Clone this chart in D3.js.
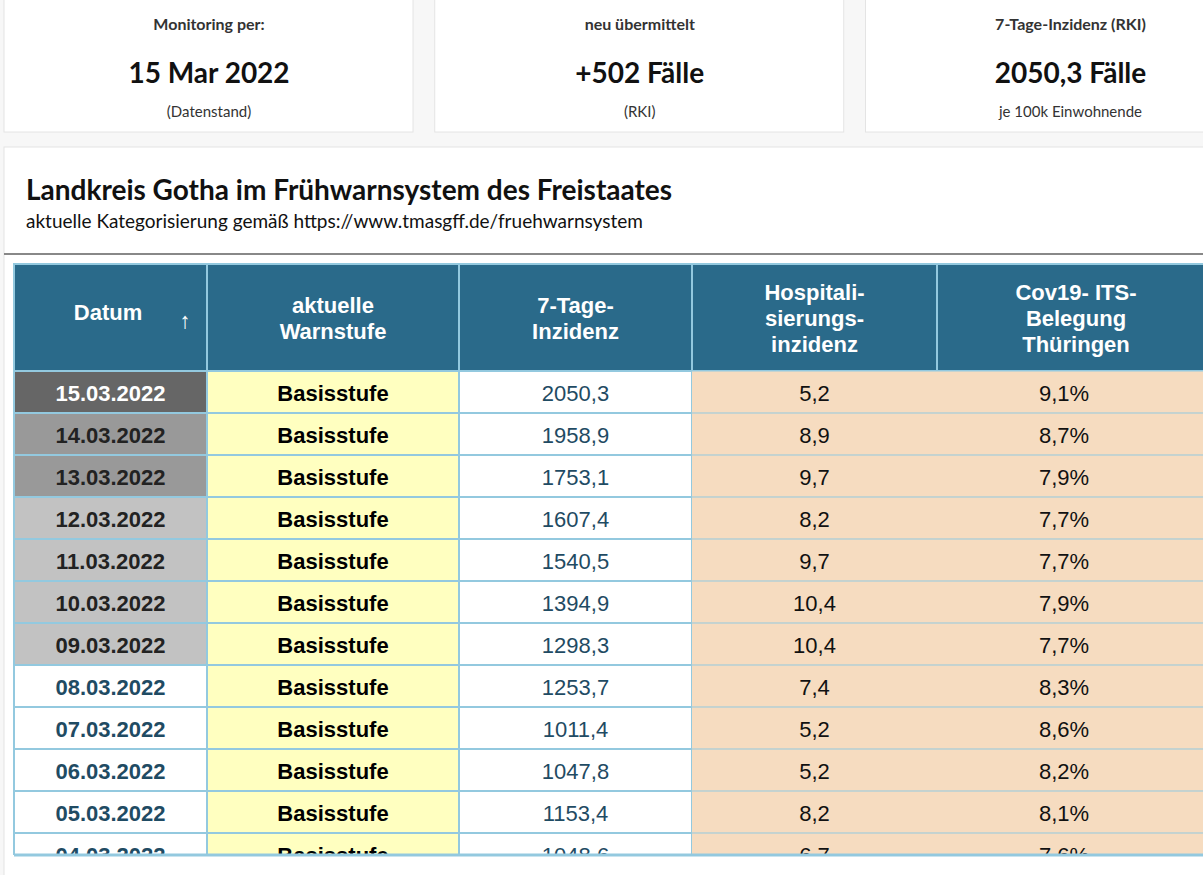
<!DOCTYPE html>
<html><head><meta charset="utf-8">
<script src="https://cdn.jsdelivr.net/npm/d3@7"></script>
<style>body{margin:0;background:#f7f7f7;overflow:hidden}</style>
</head><body>
<script>
// data
const cardTitles = ["Monitoring per:", "neu übermittelt", "7-Tage-Inzidenz (RKI)"];
const cardValues = ["15 Mar 2022", "+502 Fälle", "2050,3 Fälle"];
const cardNotes = ["(Datenstand)", "(RKI)", "je 100k Einwohnende"];
const headers = [["Datum"], ["aktuelle", "Warnstufe"], ["7-Tage-", "Inzidenz"], ["Hospitali-", "sierungs-", "inzidenz"], ["Cov19- ITS-", "Belegung", "Thüringen"]];
const dates = ["15.03.2022","14.03.2022","13.03.2022","12.03.2022","11.03.2022","10.03.2022","09.03.2022","08.03.2022","07.03.2022","06.03.2022","05.03.2022","04.03.2022"];
const stufe = ["Basisstufe","Basisstufe","Basisstufe","Basisstufe","Basisstufe","Basisstufe","Basisstufe","Basisstufe","Basisstufe","Basisstufe","Basisstufe","Basisstufe"];
const inzidenz = ["2050,3","1958,9","1753,1","1607,4","1540,5","1394,9","1298,3","1253,7","1011,4","1047,8","1153,4","1048,6"];
const hospital = ["5,2","8,9","9,7","8,2","9,7","10,4","10,4","7,4","5,2","5,2","8,2","6,7"];
const its = ["9,1%","8,7%","7,9%","7,7%","7,7%","7,9%","7,7%","8,3%","8,6%","8,2%","8,1%","7,6%"];

const W = 1203, H = 875;
const svg = d3.select("body").append("svg").attr("width", W).attr("height", H);

// cards
const cardX = d3.scaleBand().domain(d3.range(3)).range([4, 1279]).paddingInner(0.04).paddingOuter(0);
const cards = svg.selectAll("g.card").data(cardTitles).enter().append("g")
  .attr("transform", (d, i) => `translate(${cardX(i)},0)`);
cards.append("rect").attr("y", -2).attr("width", 409).attr("height", 134)
  .attr("fill", "#fff").attr("stroke", "#e4e4e4");
cards.append("text").attr("x", 205).attr("y", 30).attr("text-anchor", "middle")
  .attr("font-family", "Lato").attr("font-weight", "bold").attr("font-size", 16).attr("fill", "#333").text(d => d);
cards.append("text").attr("x", 205).attr("y", 83).attr("text-anchor", "middle")
  .attr("font-family", "Lato").attr("font-weight", "bold").attr("font-size", 28).attr("fill", "#111").text((d, i) => cardValues[i]);
cards.append("text").attr("x", 205).attr("y", 117).attr("text-anchor", "middle")
  .attr("font-family", "Lato").attr("font-size", 15).attr("fill", "#333").text((d, i) => cardNotes[i]);

// panel
svg.append("rect").attr("x", 4).attr("y", 147).attr("width", 1210).attr("height", 740)
  .attr("fill", "#fff").attr("stroke", "#e4e4e4");
svg.append("text").attr("x", 26).attr("y", 200).attr("font-family", "Lato").attr("font-weight", "bold")
  .attr("font-size", 28).attr("fill", "#111").text("Landkreis Gotha im Frühwarnsystem des Freistaates");
svg.append("text").attr("x", 26).attr("y", 228).attr("font-family", "Lato")
  .attr("font-size", 19).attr("fill", "#111").text("aktuelle Kategorisierung gemäß https://www.tmasgff.de/fruehwarnsystem");
svg.append("line").attr("x1", 4).attr("x2", W).attr("y1", 254).attr("y2", 254)
  .attr("stroke", "#888").attr("stroke-width", 2);

// table
const colEdges = [14, 207, 459, 692, 937, 1215];
const headTop = 264, headH = 107, rowH = 42, tableBottom = 855;
const y = d3.scaleBand().domain(d3.range(dates.length)).range([headTop + headH, headTop + headH + rowH * dates.length]);
const table = svg.append("g");
table.append("clipPath").attr("id", "clip").append("rect")
  .attr("x", 0).attr("y", 0).attr("width", W).attr("height", tableBottom);
const body = table.append("g").attr("clip-path", "url(#clip)");
const border = "#93c9df";
const font = "'Liberation Sans', Arial, sans-serif";

body.selectAll("rect.h").data(headers).enter().append("rect")
  .attr("x", (d, i) => colEdges[i]).attr("y", headTop)
  .attr("width", (d, i) => colEdges[i + 1] - colEdges[i]).attr("height", headH)
  .attr("fill", "#2a6a8a").attr("stroke", border).attr("stroke-width", 2);
body.selectAll("text.h").data(headers).enter().append("text")
  .attr("text-anchor", "middle").attr("font-family", font).attr("font-weight", "bold")
  .attr("font-size", 22).attr("fill", "#fff")
  .each(function (d, i) {
    const cx = i === 0 ? 108 : (colEdges[i] + colEdges[i + 1]) / 2;
    const y0 = headTop + headH / 2 - (d.length - 1) * 13 + 8 - (i === 0 ? 6 : 0);
    d3.select(this).selectAll("tspan").data(d).enter().append("tspan")
      .attr("x", cx).attr("y", (t, k) => y0 + k * 26).text(t => t);
  });
body.append("text").attr("x", 185).attr("y", 328).attr("text-anchor", "middle")
  .attr("font-family", font).attr("font-weight", "bold").attr("font-size", 22).attr("fill", "#fff").text("↑");

const dateFill = i => i === 0 ? "#666666" : i < 3 ? "#999999" : i < 7 ? "#c2c2c2" : "#ffffff";
const dateText = i => i === 0 ? "#ffffff" : i < 7 ? "#222222" : "#1f4b63";
const cols = [
  { vals: dates, fill: dateFill, color: dateText, weight: "bold" },
  { vals: stufe, fill: () => "#ffffc0", color: () => "#000", weight: "bold" },
  { vals: inzidenz, fill: () => "#ffffff", color: () => "#1f4b63", weight: "normal" },
  { vals: hospital, fill: () => "#f6dcc0", color: () => "#111", weight: "normal" },
  { vals: its, fill: () => "#f6dcc0", color: () => "#111", weight: "normal" }
];
cols.forEach((c, ci) => {
  const g = body.append("g");
  g.selectAll("rect").data(c.vals).enter().append("rect")
    .attr("x", colEdges[ci]).attr("y", (d, i) => y(i))
    .attr("width", colEdges[ci + 1] - colEdges[ci]).attr("height", y.bandwidth())
    .attr("fill", (d, i) => c.fill(i)).attr("stroke", ci >= 3 ? "none" : border).attr("stroke-width", 2);
  g.selectAll("text").data(c.vals).enter().append("text")
    .attr("x", (colEdges[ci] + colEdges[ci + 1]) / 2 - (ci === 4 ? 12 : 0)).attr("y", (d, i) => y(i) + 30)
    .attr("text-anchor", "middle").attr("font-family", font).attr("font-weight", c.weight)
    .attr("font-size", 22).attr("fill", (d, i) => c.color(i)).text(d => d);
});
// horizontal row lines across the orange columns
body.selectAll("line.r").data(dates).enter().append("line")
  .attr("x1", colEdges[3]).attr("x2", W).attr("y1", (d, i) => y(i)).attr("y2", (d, i) => y(i))
  .attr("stroke", border).attr("stroke-width", 1);
table.append("line").attr("x1", 14).attr("x2", W).attr("y1", tableBottom).attr("y2", tableBottom)
  .attr("stroke", border).attr("stroke-width", 3);
table.append("line").attr("x1", 14).attr("x2", 14).attr("y1", headTop).attr("y2", tableBottom)
  .attr("stroke", border).attr("stroke-width", 2);
</script>
</body></html>
